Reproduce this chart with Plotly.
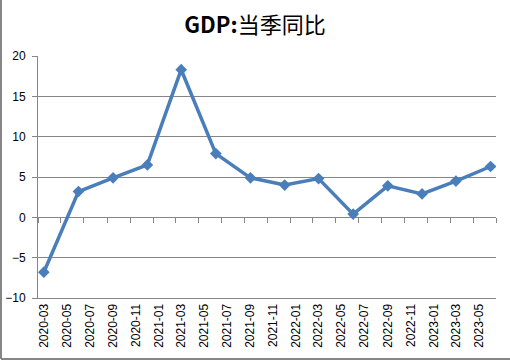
import plotly.graph_objects as go

# Data
quarters = ["2020-03", "2020-06", "2020-09", "2020-12", "2021-03", "2021-06", "2021-09",
            "2021-12", "2022-03", "2022-06", "2022-09", "2022-12", "2023-03", "2023-06"]
gdp_yoy = [-6.8, 3.2, 4.9, 6.5, 18.3, 7.9, 4.9, 4.0, 4.8, 0.4, 3.9, 2.9, 4.5, 6.3]
tick_labels = ["2020-03", "2020-05", "2020-07", "2020-09", "2020-11", "2021-01", "2021-03",
               "2021-05", "2021-07", "2021-09", "2021-11", "2022-01", "2022-03", "2022-05",
               "2022-07", "2022-09", "2022-11", "2023-01", "2023-03", "2023-05"]
title_text = "<b>GDP:</b>当季同比"

W, H = 510, 361
L, R, T, B = 38, 14, 56, 63
pw, ph = W - L - R, H - T - B

x_pts = [q + "-16 12:00" for q in quarters]
x_ticks = [t + "-16 12:00" for t in tick_labels]
x_range = ["2020-03-01", "2023-07-01"]

grid = "#868686"
blue = "#4A7EBB"

fig = go.Figure()
fig.add_trace(go.Scatter(
    x=x_pts, y=gdp_yoy, mode="lines+markers",
    line=dict(color=blue, width=3.5),
    marker=dict(symbol="diamond", size=9, color=blue),
    showlegend=False, hoverinfo="x+y"))
# helper trace for the tick-mark axis on the zero line
fig.add_trace(go.Scatter(x=x_range, y=[0, 0], xaxis="x2", mode="lines",
                         line=dict(width=0), showlegend=False, hoverinfo="skip"))

fig.update_layout(
    width=W, height=H,
    margin=dict(l=L, r=R, t=T, b=B, autoexpand=False),
    paper_bgcolor="white", plot_bgcolor="white",
    title=dict(text=title_text, x=0.5, xref="container", xanchor="center",
               y=1 - 25 / H, yanchor="middle",
               font=dict(family="Noto Sans CJK SC", size=22, color="#000000")),
    font=dict(family="Liberation Sans", size=12, color="#000000"),
    xaxis=dict(type="date", range=x_range, tickmode="array",
               tickvals=x_ticks, ticktext=tick_labels, tickangle=-90,
               ticks="", showgrid=False, showline=True, linecolor=grid, linewidth=1,
               zeroline=False, automargin=False,
               tickfont=dict(family="Liberation Sans", size=12)),
    xaxis2=dict(type="date", range=x_range, overlaying="x", anchor="free",
                position=1 / 3, side="bottom", tickmode="linear",
                tick0="2020-03-01", dtick="M2", ticks="outside", ticklen=5,
                tickcolor=grid, tickwidth=1, showticklabels=False, automargin=False,
                showgrid=False, showline=False, zeroline=False),
    yaxis=dict(range=[-10, 20], dtick=5, tick0=0, showgrid=True, gridcolor=grid,
               gridwidth=1, showline=True, linecolor=grid, linewidth=1,
               ticks="outside", ticklen=5, tickcolor=grid, zeroline=False,
               ticklabelstandoff=4, automargin=False,
               tickfont=dict(family="Liberation Sans", size=12)),
)

# outer frame (left and bottom edges)
x_left = (1 - L) / pw
x_right = (W - L) / pw
y_bottom = (T + ph - (H - 2)) / ph
y_top = (T + ph) / ph
fig.add_shape(type="line", xref="paper", yref="paper", x0=x_left, x1=x_left,
              y0=y_bottom, y1=y_top, line=dict(color=grid, width=2))
fig.add_shape(type="line", xref="paper", yref="paper", x0=x_left, x1=x_right,
              y0=y_bottom, y1=y_bottom, line=dict(color=grid, width=2))

fig.write_html("out.html", config={"displayModeBar": False},
               post_script="document.body.style.margin='0';document.body.style.padding='0';")
